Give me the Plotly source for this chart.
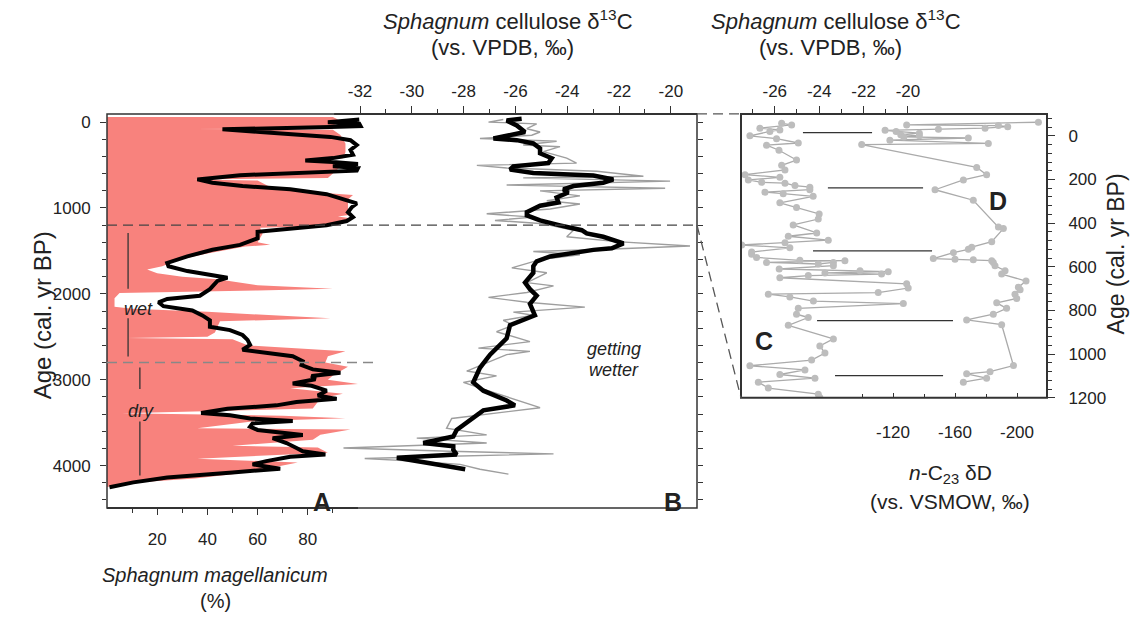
import plotly.graph_objects as go

W, H = 1131, 623

# ---------------- data ----------------
# Panel A: Sphagnum magellanicum (%) raw (filled) and smoothed (black)
a_raw_age = [-60, -30, 60, 75, 80, 88, 150, 250, 350, 420, 440, 455, 520, 600, 650, 667, 680, 740, 790,
             850, 900, 1000, 1080, 1100, 1120, 1180, 1205, 1230, 1300, 1400, 1428, 1450, 1530, 1600, 1680,
             1716, 1760, 1800, 1830, 1900, 1940, 1960, 1990, 2050, 2150, 2175, 2210, 2285, 2320, 2450,
             2500, 2513, 2530, 2600, 2670, 2728, 2800, 2850, 2950, 3000, 3050, 3100, 3163, 3220, 3335,
             3392, 3420, 3450, 3480, 3564, 3580, 3640, 3700, 3770, 3790, 3850, 3920, 3964, 4040, 4100,
             4150, 4200, 4240, 4250]
a_raw_pct = [90, 92, 90, 88, 34, 90, 93, 95, 95, 94, 80, 93, 93, 90, 88, 34, 60, 64, 70,
             98, 96, 96, 97, 92, 97, 93, 92, 61, 62, 60, 65, 55, 40, 29, 22,
             16, 20, 30, 44, 60, 90, 60, 5, 3, 3, 10, 40, 89, 45, 43,
             40, 8, 50, 56, 95, 88, 87, 96, 90, 88, 100, 73, 94, 85, 82,
             6, 70, 95, 60, 36, 97, 85, 82, 50, 84, 88, 36, 76, 63, 50,
             35, 10, 2, 0]

a_smooth_age = [-30, 0, 19, 46, 57, 84, 114, 172, 210, 267, 324, 381, 419, 446, 465, 488, 515, 534, 565,
                618, 667, 706, 744, 782, 839, 896, 946, 992, 1049, 1106, 1152, 1202, 1240, 1278, 1354,
                1392, 1430, 1487, 1564, 1640, 1678, 1735, 1812, 1850, 1945, 2022, 2060, 2098, 2144, 2193,
                2251, 2308, 2384, 2422, 2479, 2537, 2594, 2651, 2689, 2727, 2785, 2830, 2880, 2918, 2956,
                2994, 3044, 3071, 3128, 3185, 3223, 3261, 3299, 3338, 3387, 3414, 3452, 3482, 3509, 3547,
                3585, 3643, 3681, 3738, 3795, 3833, 3871, 3898, 3948, 3986, 4005, 4036, 4081, 4138, 4196, 4253]
a_smooth_pct = [100.5, 88, 100.5, 101, 89, 46, 61, 89, 97, 99.5, 97, 98, 90, 79, 90, 100, 90, 100, 99.5,
                53, 36, 42, 54, 73, 87.5, 94, 99.5, 97.5, 96, 98, 95.5, 87.5, 74, 60, 60,
                56, 53, 42, 32, 24, 24.5, 32, 48, 44, 41, 37, 24, 20.5, 22.5, 34,
                38, 41, 41, 49, 54, 56, 57, 54, 63.5, 74, 78, 77.5, 82, 93, 81.5,
                83, 74, 81.5, 87.5, 84, 91.5, 75.5, 67.5, 48, 37.5, 49, 57, 74, 58, 57,
                60, 78, 66, 71.5, 75.5, 78, 87, 73, 63.5, 58, 62, 69, 50, 24, 10.5, 1]

# Panel B: Sphagnum cellulose d13C raw (grey) and smoothed (black)
b_raw_age = [-30, 0, 20, 77, 115, 153, 191, 222, 267, 286, 344, 420, 477, 504, 534, 573, 630, 649, 687,
             733, 771, 801, 859, 916, 954, 1011, 1068, 1107, 1145, 1183, 1259, 1335, 1392, 1442, 1480,
             1507, 1545, 1602, 1698, 1755, 1869, 1907, 1984, 2041, 2098, 2155, 2213, 2250, 2308, 2365,
             2441, 2556, 2632, 2670, 2708, 2899, 2956, 3032, 3109, 3242, 3326, 3452, 3566, 3643, 3681,
             3738, 3795, 3833, 3864, 3891, 3917, 3948, 3986, 4043, 4100]
b_raw_d13c = [-26.47, -27.04, -25.18, -25.56, -25.05, -25.37, -27.37, -24.41, -25.70, -24.28, -24.92,
              -24.02, -23.64, -27.49, -26.34, -22.86, -21.06, -25.70, -20.03, -26.34, -20.22, -25.05,
              -23.51, -24.79, -23.51, -24.66, -27.11, -25.31, -26.79, -24.92, -23.76, -24.02, -22.09,
              -19.26, -22.48, -25.31, -23.51, -25.05, -26.14, -24.79, -25.56, -24.53, -25.56, -27.04,
              -25.56, -23.32, -26.08, -25.31, -26.47, -26.08, -26.73, -25.44, -27.43, -25.44, -26.34,
              -27.88, -26.73, -28.01, -27.24, -25.95, -25.05, -28.46, -28.66, -27.11, -29.81, -27.11,
              -32.64, -28.53, -24.53, -28.53, -31.82, -29.94, -28.14, -27.37, -26.27]

b_smooth_age = [-38, -19, 39, 77, 115, 191, 210, 248, 306, 363, 420, 477, 515, 553, 592, 622, 668, 706,
                744, 782, 820, 878, 935, 973, 1049, 1087, 1145, 1202, 1259, 1297, 1335, 1412, 1469, 1488,
                1526, 1564, 1621, 1679, 1755, 1869, 1946, 2022, 2117, 2250, 2365, 2518, 2708, 2861, 3032,
                3128, 3242, 3299, 3357, 3471, 3585, 3662, 3738, 3776, 3815, 3871, 3910, 3967, 4043]
b_smooth_d13c = [-25.76, -26.34, -25.95, -25.76, -25.63, -26.85, -25.95, -25.31, -25.05, -25.05, -24.60,
                 -24.73, -26.08, -26.21, -25.31, -22.99, -22.22, -22.61, -23.76, -24.15, -23.96, -24.41,
                 -24.34, -25.05, -25.56, -25.56, -25.05, -24.28, -23.44, -23.25, -22.61, -21.83, -22.28,
                 -22.99, -23.76, -24.66, -25.18, -25.31, -25.31, -25.63, -25.44, -25.18, -25.44, -25.25,
                 -26.21, -26.34, -26.98, -27.37, -27.63, -27.24, -26.34, -26.02, -27.24, -27.75, -28.27,
                 -28.40, -29.56, -28.40, -28.40, -28.27, -30.58, -29.42, -27.94]

# Panel C: d13C (top axis), Panel D: n-C23 dD (bottom axis), last 1200 yr
c_age = [-57, -50, -35, -27, -20, 0, 13, 33, 43, 66, 111, 135, 156, 178, 190, 202, 213, 217, 228, 235,
         247, 258, 265, 277, 307, 328, 358, 381, 408, 445, 460, 478, 490, 500, 513, 532, 542, 557, 570,
         572, 580, 587, 580, 595, 610, 618, 622, 628, 633, 640, 650, 678, 697, 718, 725, 738, 757, 768,
         790, 817, 832, 868, 930, 962, 995, 1027, 1053, 1072, 1093, 1110, 1128, 1155, 1183, 1198]
c_d13c = [-25.69, -25.24, -26.67, -25.77, -26.22, -27.12, -25.92, -24.94, -26.37, -25.81, -25.02,
          -25.69, -25.54, -27.34, -25.77, -27.19, -26.59, -25.54, -25.09, -24.42, -24.42, -26.44,
          -25.62, -24.27, -25.77, -25.02, -24.00, -24.04, -25.17, -24.11, -25.39, -23.59, -25.54,
          -27.49, -25.32, -27.04, -27.04, -26.82, -24.87, -22.84, -26.37, -24.04, -23.36, -23.36,
          -25.80, -22.16, -20.89, -23.74, -21.19, -24.49, -25.77, -20.06, -19.99, -21.34, -26.29,
          -25.32, -24.26, -20.21, -24.94, -25.02, -24.49, -25.39, -23.36, -23.97, -23.74, -24.34,
          -27.12, -24.64, -25.77, -24.19, -26.74, -26.29, -24.04, -23.97]

d_age = [-62, -50, -47, -42, -35, -30, -25, -20, -12, -5, 0, 5, 10, 20, 35, 40, 145, 178, 202, 247, 295,
         418, 425, 485, 510, 520, 535, 562, 565, 567, 572, 580, 595, 618, 633, 665, 693, 705, 725, 745,
         765, 790, 817, 843, 865, 1052, 1080, 1090, 1110, 1128]
d_dD = [-213.8, -128.8, -188.0, -194.0, -179.4, -149.3, -114.9, -122.0, -137.0, -125.0, -137.0, -127.0,
        -168.6, -118.0, -181.5, -99.8, -174.0, -180.4, -165.4, -147.1, -171.8, -188.0, -191.2, -183.7,
        -170.8, -168.6, -159.0, -146.0, -160.0, -171.8, -183.7, -184.7, -185.8, -192.3, -190.1, -205.8,
        -200.9, -202.0, -198.7, -199.8, -186.9, -193.3, -184.7, -167.5, -190.1, -197.7, -182.6, -167.5,
        -180.4, -165.4]

# horizontal reference bars in panel C/D (dD units)
seg_age = [-15, 238, 527, 846, 1098]
seg_dD_from = [-61.9, -78.0, -68.4, -71.0, -82.6]
seg_dD_to = [-106.5, -139.4, -145.2, -158.7, -152.3]

boundary_ages = [1200, 2800]

# tick definitions
age_major_l = [0, 1000, 2000, 3000, 4000]
pct_major = [20, 40, 60, 80]
pct_minor = [10, 30, 50, 70, 90]
d13c_major_b = [-32, -30, -28, -26, -24, -22, -20]
d13c_minor_b = [-31, -29, -27, -25, -23, -21]
d13c_major_c = [-26, -24, -22, -20]
d13c_minor_c = [-27, -25, -23, -21]
dD_major = [-120, -160, -200]
dD_minor = [-100, -140, -180, -220]
age_major_r = [0, 200, 400, 600, 800, 1000, 1200]

# ---------------- layout geometry ----------------
def px(x):
    return x / W

def py(y):
    return 1 - y / H

LX = [px(107), px(697)]
LY = [py(516), py(115)]
RX = [px(741), px(1047)]
RY = [py(404), py(115)]

AGE_L = [4493, -95]
PCT_R = [0, 235.06]
D13C_B = [-41.77, -18.99]
AGE_R = [1200, -100]
D13C_C = [-27.52, -13.74]
DD_R = [-21.94, -219.35]

FONT = "Arial, Liberation Sans, sans-serif"
TXT = "#222222"
AX = "#333333"
TICKF = dict(family=FONT, size=17, color=TXT)

fig = go.Figure()

# Panel A
fig.add_trace(go.Scatter(x=a_raw_pct, y=a_raw_age, xaxis="x", yaxis="y", mode="lines",
                         line=dict(width=0, color="#F8827D"), fill="tozerox",
                         fillcolor="#F8827D", hoverinfo="skip"))
fig.add_trace(go.Scatter(x=a_smooth_pct, y=a_smooth_age, xaxis="x", yaxis="y", mode="lines",
                         line=dict(width=4, color="black"), hoverinfo="skip"))
# Panel B
fig.add_trace(go.Scatter(x=b_raw_d13c, y=b_raw_age, xaxis="x2", yaxis="y", mode="lines",
                         line=dict(width=1.4, color="#9E9E9E"), hoverinfo="skip"))
fig.add_trace(go.Scatter(x=b_smooth_d13c, y=b_smooth_age, xaxis="x2", yaxis="y", mode="lines",
                         line=dict(width=4.5, color="black"), hoverinfo="skip"))
# dummy for right ticks of panel B
fig.add_trace(go.Scatter(x=[50], y=[2000], xaxis="x", yaxis="y2", mode="markers",
                         marker=dict(opacity=0), hoverinfo="skip"))
# Panel C / D
fig.add_trace(go.Scatter(x=c_d13c, y=c_age, xaxis="x3", yaxis="y3", mode="lines+markers",
                         line=dict(width=1.3, color="#ABABAB"),
                         marker=dict(size=7, color="#BDBDBD"), hoverinfo="skip"))
fig.add_trace(go.Scatter(x=d_dD, y=d_age, xaxis="x4", yaxis="y3", mode="lines+markers",
                         line=dict(width=1.3, color="#ABABAB"),
                         marker=dict(size=7, color="#BDBDBD"), hoverinfo="skip"))
sx, sy = [], []
for a, f, t in zip(seg_age, seg_dD_from, seg_dD_to):
    sx += [f, t, None]
    sy += [a, a, None]
fig.add_trace(go.Scatter(x=sx, y=sy, xaxis="x4", yaxis="y3", mode="lines",
                         line=dict(width=1.2, color="#333333"), hoverinfo="skip"))

common = dict(showgrid=False, zeroline=False, showline=False, ticks="outside",
              tickcolor=AX, tickwidth=1.2, tickfont=TICKF)

fig.update_layout(
    width=W, height=H, margin=dict(l=0, r=0, t=0, b=0),
    paper_bgcolor="white", plot_bgcolor="rgba(0,0,0,0)", showlegend=False,
    xaxis=dict(domain=LX, anchor="y", side="bottom", range=PCT_R, tickmode="array",
               tickvals=pct_major, ticktext=[str(v) for v in pct_major], ticklen=6,
               minor=dict(tickmode="array", tickvals=pct_minor, ticks="outside", ticklen=4,
                          tickcolor=AX, tickwidth=1.2), ticklabelstandoff=10, **common),
    xaxis2=dict(overlaying="x", anchor="y", side="top", range=D13C_B, tickmode="array",
                tickvals=d13c_major_b, ticktext=[str(v) for v in d13c_major_b], ticklen=7,
                minor=dict(tickmode="array", tickvals=d13c_minor_b, ticks="outside", ticklen=4,
                           tickcolor=AX, tickwidth=1.2), ticklabelstandoff=2, **common),
    yaxis=dict(domain=LY, anchor="x", side="left", range=AGE_L, tickmode="array",
               tickvals=age_major_l, ticktext=[str(v) for v in age_major_l], ticklen=6,
               minor=dict(dtick=200, tick0=0, ticks="outside", ticklen=4, tickcolor=AX, tickwidth=1.2),
               ticklabelstandoff=6, **common),
    yaxis2=dict(overlaying="y", anchor="x", side="right", range=AGE_L, dtick=200, tick0=0,
                ticklen=5, showticklabels=False, **common),
    xaxis3=dict(domain=RX, anchor="y3", side="top", range=D13C_C, tickmode="array",
                tickvals=d13c_major_c, ticktext=[str(v) for v in d13c_major_c], ticklen=7,
                minor=dict(tickmode="array", tickvals=d13c_minor_c, ticks="outside", ticklen=4,
                           tickcolor=AX, tickwidth=1.2), ticklabelstandoff=2, **common),
    xaxis4=dict(overlaying="x3", anchor="y3", side="bottom", range=DD_R, tickmode="array",
                tickvals=dD_major, ticktext=[str(v) for v in dD_major], ticklen=5,
                minor=dict(tickmode="array", tickvals=dD_minor, ticks="inside", ticklen=4,
                           tickcolor=AX, tickwidth=1.2), ticklabelstandoff=22,
                **{**common, "ticks": "inside"}),
    yaxis3=dict(domain=RY, anchor="x3", side="right", range=AGE_R, tickmode="array",
                tickvals=age_major_r, ticktext=[str(v) for v in age_major_r], ticklen=7,
                minor=dict(dtick=40, tick0=0, ticks="outside", ticklen=4, tickcolor=AX, tickwidth=1.2),
                ticklabelstandoff=10, **common),
)

shapes = []
# frames
shapes.append(dict(type="rect", xref="x domain", yref="y domain", x0=0, x1=1, y0=0, y1=1,
                   line=dict(color=AX, width=1.5)))
shapes.append(dict(type="rect", xref="x3 domain", yref="y3 domain", x0=0, x1=1, y0=0, y1=1,
                   line=dict(color=AX, width=2)))
# thicker bottom axis for panel A
shapes.append(dict(type="line", xref="x", yref="y domain", x0=0, x1=100, y0=0, y1=0,
                   line=dict(color=AX, width=2)))
# thicker top axis segment for panel B
shapes.append(dict(type="line", xref="x2", yref="y domain", x0=-33, x1=D13C_B[1], y0=1, y1=1,
                   line=dict(color=AX, width=2)))
# boundary dashed lines
shapes.append(dict(type="line", xref="x domain", yref="y", x0=0, x1=1,
                   y0=boundary_ages[0], y1=boundary_ages[0],
                   line=dict(color="#444444", width=1.3, dash="10px,6px")))
shapes.append(dict(type="line", xref="x", yref="y", x0=0, x1=107,
                   y0=boundary_ages[1], y1=boundary_ages[1],
                   line=dict(color="#888888", width=1.6, dash="10px,6px")))

# connectors to the right panel
def age_to_paper_left(age):
    f = (age - AGE_L[0]) / (AGE_L[1] - AGE_L[0])
    return LY[0] + f * (LY[1] - LY[0])

def age_to_paper_right(age):
    f = (age - AGE_R[0]) / (AGE_R[1] - AGE_R[0])
    return RY[0] + f * (RY[1] - RY[0])

shapes.append(dict(type="line", xref="paper", yref="paper", x0=LX[1], x1=RX[0],
                   y0=LY[1], y1=RY[1], line=dict(color="#555555", width=1.3, dash="10px,6px")))
shapes.append(dict(type="line", xref="paper", yref="paper", x0=LX[1], x1=RX[0],
                   y0=age_to_paper_left(boundary_ages[0]), y1=age_to_paper_right(boundary_ages[0]),
                   line=dict(color="#555555", width=1.3, dash="10px,6px")))

# wet / dry bars (pct, age)
wet_x, dry_x = 8.4, 13.1
for (x, a0, a1) in [(wet_x, 1290, 1942), (wet_x, 2285, 2731), (dry_x, 2857, 3108), (dry_x, 3486, 4115)]:
    shapes.append(dict(type="line", xref="x", yref="y", x0=x, x1=x, y0=a0, y1=a1,
                       line=dict(color="#333333", width=1.3)))
fig.update_layout(shapes=shapes)

ann = []
def txt(x, y, s, size, xref="paper", yref="paper", angle=0, xanchor="center", yanchor="middle"):
    ann.append(dict(x=x, y=y, xref=xref, yref=yref, text=s, showarrow=False, textangle=angle,
                    xanchor=xanchor, yanchor=yanchor, font=dict(family=FONT, size=size, color=TXT)))

txt(px(508), py(19), "<i>Sphagnum</i> cellulose δ<sup>13</sup>C", 22)
txt(px(502), py(47), "(vs. VPDB, ‰)", 22)
txt(px(836), py(19), "<i>Sphagnum</i> cellulose δ<sup>13</sup>C", 22)
txt(px(830), py(47), "(vs. VPDB, ‰)", 22)
txt(px(215), py(584), "<i>Sphagnum magellanicum</i>", 20)
txt(px(215), py(611), "(%)", 20)
txt(px(950), py(482), "<i>n</i>-C<sub>23</sub> δD", 21)
txt(px(950), py(509), "(vs. VSMOW, ‰)", 21)
txt(px(42), py(320), "Age (cal. yr BP)", 24, angle=-90)
txt(px(1116), py(258), "Age (cal. yr BP)", 23, angle=-90)

txt(px(322), py(510), "<b>A</b>", 25)
txt(px(673), py(510), "<b>B</b>", 25)
txt(px(764), py(346), "<b>C</b>", 25)
txt(px(998), py(204), "<b>D</b>", 25)
txt(12.4, 2180, "<i>wet</i>", 18, xref="x", yref="y")
txt(13.5, 3370, "<i>dry</i>", 18, xref="x", yref="y")
txt(px(614), py(354), "<i>getting</i>", 18)
txt(px(614), py(376), "<i>wetter</i>", 18)
fig.update_layout(annotations=ann)

fig.write_html("out.html", config={"displayModeBar": False},
               post_script="document.body.style.margin='0';document.body.style.overflow='hidden';")
